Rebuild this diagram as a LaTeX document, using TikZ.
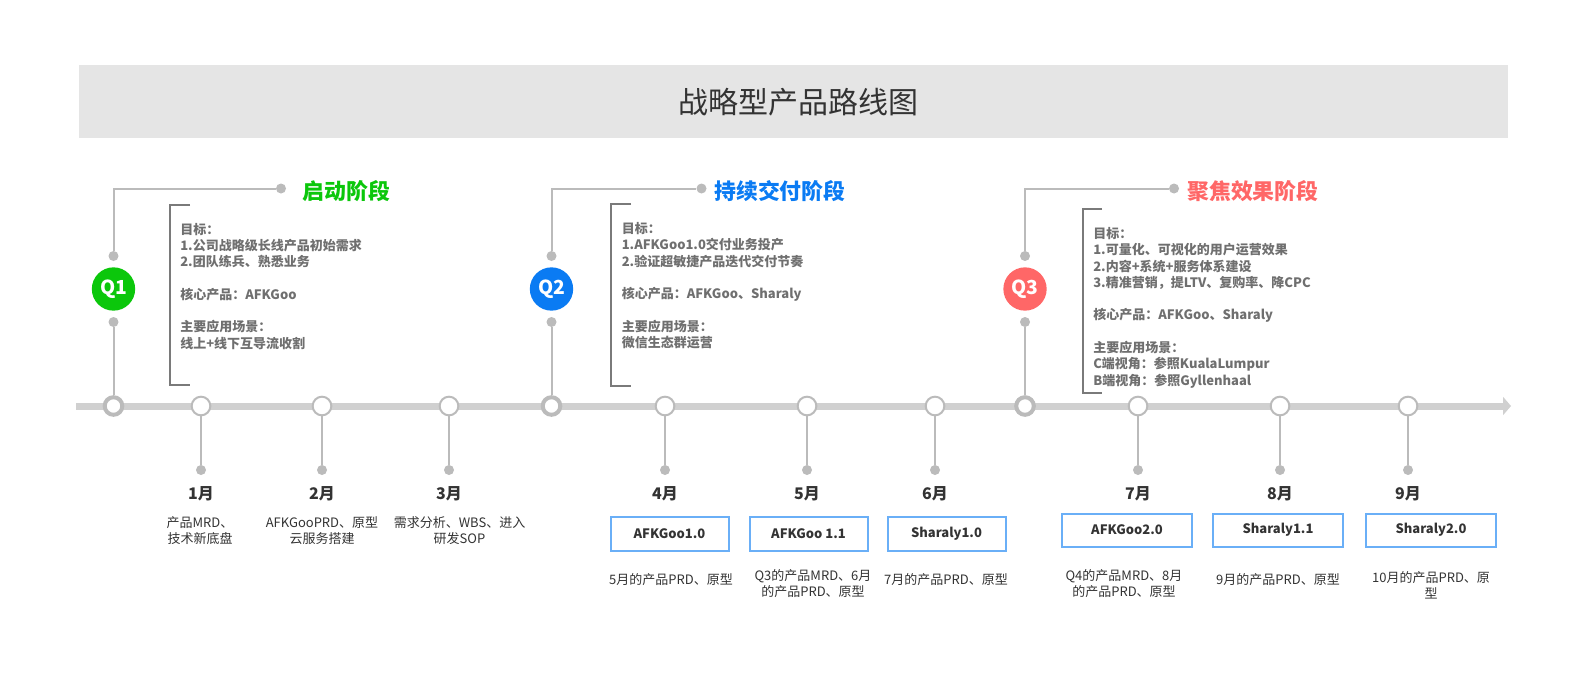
\documentclass[tikz,border=0pt]{standalone}
\usepackage{fontspec}
\setmainfont{Noto Sans CJK SC}
\usetikzlibrary{arrows.meta}

\definecolor{titlebg}{HTML}{E5E5E5}
\definecolor{axisgray}{HTML}{D0D0D0}
\definecolor{linegray}{HTML}{BBBBBB}
\definecolor{bracketgray}{HTML}{7A7A7A}
\definecolor{textgray}{HTML}{6F6F6F}
\definecolor{darktext}{HTML}{333333}
\definecolor{boxblue}{HTML}{6AAFF7}
\definecolor{qgreen}{HTML}{0BC70B}
\definecolor{qblue}{HTML}{0A7BF3}
\definecolor{qred}{HTML}{FF6767}

\tikzset{
  ring/.style={circle, draw=linegray, fill=white, line width=1.5pt, minimum size=14pt, inner sep=0pt},
  qring/.style={ring, line width=3pt, minimum size=13.2pt},
  dotmark/.style={circle, fill=linegray, minimum size=7.5pt, inner sep=0pt},
  stem/.style={draw=linegray, line width=1.5pt},
  qball/.style={circle, fill=#1, minimum size=32.5pt, inner sep=0pt, text=white, font=\fontsize{14.5}{16}\selectfont\bfseries},
  phase/.style={anchor=west, inner sep=0pt, text=#1, font=\fontsize{16.4}{18}\selectfont\bfseries},
  goals/.style={anchor=base west, inner sep=0pt, align=left, text=textgray, font=\fontsize{9.75}{12.2}\selectfont\bfseries},
  bracket/.style={draw=bracketgray, line width=1.5pt},
  month/.style={inner sep=0pt, text=darktext, font=\fontsize{12}{14}\selectfont\bfseries},
  note/.style={anchor=base, inner sep=0pt, align=center, text=darktext, font=\fontsize{9.75}{11.7}\selectfont},
  release/.style={draw=boxblue, line width=1.5pt, inner sep=0pt, minimum height=25.5pt, text=darktext, font=\fontsize{9.75}{12}\selectfont\bfseries},
}

\begin{document}
\begin{tikzpicture}[x=0.75pt, y=-0.75pt] % 1 unit = 1 px
    \useasboundingbox (0,0) rectangle (1590,675);

    % Title bar
    \fill[titlebg] (79,65) rectangle (1508,138);
    \node[text=darktext, font=\fontsize{22.5}{26}\selectfont] (title) at (798,102) {战略型产品路线图};

    % Time axis
    \draw[axisgray, line width=5.25pt, -{Triangle[length=6pt, width=13.5pt]}] (76,406) -- (1511,406);

    % Months on the axis
    \foreach \x/\m in {201/1, 322/2, 449/3, 665/4, 807/5, 935/6, 1138/7, 1280/8, 1408/9} {
        \node[ring] (ring\m) at (\x,406) {};
        \node[dotmark] (dot\m) at (\x,470) {};
        \draw[stem] (ring\m) -- (dot\m);
        \node[month] (month\m) at (\x,494) {\m 月};
    }

    % Quarter markers
    \foreach \x/\q/\col/\hx in {113.5/1/qgreen/281, 551.5/2/qblue/701.5, 1025/3/qred/1174} {
        \node[qring] (qaxis\q) at (\x,406) {};
        \node[dotmark] (qlow\q) at (\x,322) {};
        \node[qball=\col] (q\q) at (\x,289) {Q\q};
        \node[dotmark] (qup\q) at (\x,256) {};
        \node[dotmark] (qhead\q) at (\hx,188.5) {};
        \coordinate (qcorner\q) at (\x,188.5);
        \draw[stem] (qaxis\q) -- (qlow\q);
        \draw[stem] (qup\q) -- (qcorner\q) -- (qhead\q);
    }

    % Phase titles
    \node[phase=qgreen] (phase1) at (302.5,191.5) {启动阶段};
    \node[phase=qblue] (phase2) at (714,191.5) {持续交付阶段};
    \node[phase=qred] (phase3) at (1187,191.5) {聚焦效果阶段};

    % Brackets
    \draw[bracket] (190,205) -- (170,205) -- (170,385) -- (190,385);
    \draw[bracket] (631,204) -- (611,204) -- (611,386) -- (631,386);
    \draw[bracket] (1102,209) -- (1083,209) -- (1083,393) -- (1102,393);

    % Phase goals (anchored at the last line)
    \node[goals] (goals1) at (180,348) {目标：\\1.公司战略级长线产品初始需求\\2.团队练兵、熟悉业务\\[12.2pt]核心产品：AFKGoo\\[12.2pt]主要应用场景：\\线上+线下互导流收割};
    \node[goals] (goals2) at (621.5,347.5) {目标：\\1.AFKGoo1.0交付业务投产\\2.验证超敏捷产品迭代交付节奏\\[12.2pt]核心产品：AFKGoo、Sharaly\\[12.2pt]主要应用场景：\\微信生态群运营};
    \node[goals] (goals3) at (1093,385) {目标：\\1.可量化、可视化的用户运营效果\\2.内容+系统+服务体系建设\\3.精准营销，提LTV、复购率、降CPC\\[12.2pt]核心产品：AFKGoo、Sharaly\\[12.2pt]主要应用场景：\\C端视角：参照KualaLumpur\\B端视角：参照Gyllenhaal};

    % Q1 month notes
    \node[note] (note1) at (200,543.5) {产品MRD、\\技术新底盘};
    \node[note] (note2) at (322,543.5) {AFKGooPRD、原型\\云服务搭建};
    \node[note] (note3) at (459.5,543.5) {需求分析、WBS、进入\\研发SOP};

    % Releases
    \node[release, minimum width=88.5pt] (rel4) at (669.5,534) {AFKGoo1.0};
    \node[release, minimum width=88.5pt] (rel5) at (808.5,534) {AFKGoo 1.1};
    \node[release, minimum width=88.5pt] (rel6) at (946.5,534) {Sharaly1.0};
    \node[release, minimum width=97.5pt, minimum height=24.75pt] (rel7) at (1127,530) {AFKGoo2.0};
    \node[release, minimum width=97.5pt, minimum height=24.75pt] (rel8) at (1278,530) {Sharaly1.1};
    \node[release, minimum width=97.5pt, minimum height=24.75pt] (rel9) at (1431,530) {Sharaly2.0};

    % Release notes
    \node[note] (note4) at (671,584) {5月的产品PRD、原型};
    \node[note] (note5) at (813,596) {Q3的产品MRD、6月\\的产品PRD、原型};
    \node[note] (note6) at (946,584) {7月的产品PRD、原型};
    \node[note] (note7) at (1124,596) {Q4的产品MRD、8月\\的产品PRD、原型};
    \node[note] (note8) at (1278,584) {9月的产品PRD、原型};
    \node[note] (note9) at (1431,598) {10月的产品PRD、原\\型};
\end{tikzpicture}
\end{document}
